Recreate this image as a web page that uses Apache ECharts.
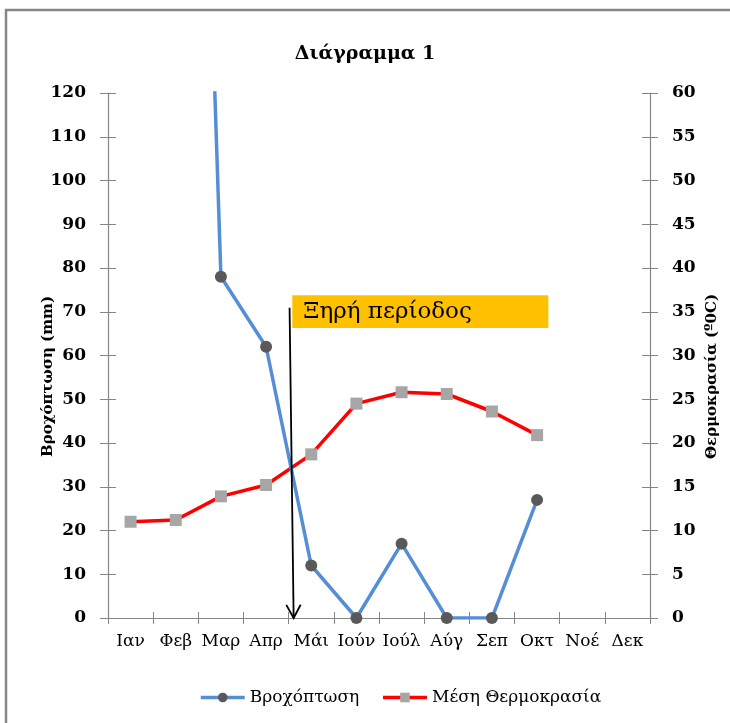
<!DOCTYPE html>
<html>
<head>
<meta charset="utf-8">
<script src="https://cdn.jsdelivr.net/npm/echarts@6/dist/echarts.min.js"></script>
<style>html,body{margin:0;padding:0;background:#fff}#c{width:730px;height:723px}</style>
</head>
<body>
<div id="c"></div>
<script>
const months = ['Ιαν','Φεβ','Μαρ','Απρ','Μάι','Ιούν','Ιούλ','Αύγ','Σεπ','Οκτ','Νοέ','Δεκ'];
const rainfall = [380, 390, 78, 62, 12, 0, 17, 0, 0, 27, null, null];
const temperature = [11.0, 11.2, 13.9, 15.2, 18.7, 24.5, 25.8, 25.6, 23.6, 20.9, null, null];
const rainTicks = {min: 0, max: 120, interval: 10};
const tempTicks = {min: 0, max: 60, interval: 5};
// annotation anchors in data space: [category position, rainfall value]
const dryBox = {from: [3.58, 73.8], to: [9.25, 66.3], text: 'Ξηρή περίοδος'};
const dryArrow = {from: [3.52, 70.9], to: [3.61, 0]};

const FONT = '"DejaVu Serif", "Liberation Serif", serif';
const AX = '#868686';
const chart = echarts.init(document.getElementById('c'), null, {renderer: 'canvas'});

const yLabel = {fontFamily: FONT, fontSize: 17, fontWeight: 'bold', color: '#000'};
const nameStyle = {fontFamily: FONT, fontSize: 15, fontWeight: 'bold', color: '#000', padding: [0, 42, 0, 0]};
const option = {
  animation: false,
  backgroundColor: '#fff',
  title: {
    text: 'Διάγραμμα 1', left: 'center', top: 40,
    textStyle: {fontFamily: FONT, fontSize: 19, fontWeight: 'bold', color: '#000'}
  },
  grid: {left: 108, right: 80, top: 93, bottom: 105, containLabel: false},
  legend: {
    left: 194, top: 684, itemWidth: 44, itemHeight: 12, itemGap: 22,
    lineStyle: {width: 3.5},
    textStyle: {fontFamily: FONT, fontSize: 17, color: '#000'},
    data: ['Βροχόπτωση', 'Μέση Θερμοκρασία']
  },
  xAxis: [
    {type: 'category', data: months, boundaryGap: true,
     axisLine: {lineStyle: {color: AX, width: 1.2}},
     axisTick: {show: true, inside: false, length: 6, interval: 0, lineStyle: {color: AX}},
     axisLabel: {interval: 0, fontFamily: FONT, fontSize: 17, color: '#000', margin: 15}},
    {type: 'category', data: months, boundaryGap: true, position: 'bottom',
     axisLine: {show: false}, axisLabel: {show: false},
     axisTick: {show: true, inside: true, length: 6, interval: 0, lineStyle: {color: AX}}}
  ],
  yAxis: [
    {type: 'value', position: 'left', min: rainTicks.min, max: rainTicks.max, interval: rainTicks.interval,
     name: 'Βροχόπτωση (mm)', nameLocation: 'middle', nameGap: 52, nameRotate: 90, nameMoveOverlap: false,
     nameTextStyle: nameStyle,
     splitLine: {show: false},
     axisLine: {show: true, lineStyle: {color: AX, width: 1.2}},
     axisTick: {show: true, inside: false, length: 8, lineStyle: {color: AX}},
     axisLabel: Object.assign({margin: 22}, yLabel)},
    {type: 'value', position: 'right', min: tempTicks.min, max: tempTicks.max, interval: tempTicks.interval,
     name: 'Θερμοκρασία (º0C)', nameLocation: 'middle', nameGap: 55, nameRotate: 90, nameMoveOverlap: false,
     nameTextStyle: nameStyle,
     splitLine: {show: false},
     axisLine: {show: true, lineStyle: {color: AX, width: 1.2}},
     axisTick: {show: true, inside: false, length: 8, lineStyle: {color: AX}},
     axisLabel: Object.assign({margin: 22}, yLabel)},
    {type: 'value', position: 'left', min: rainTicks.min, max: rainTicks.max, interval: rainTicks.interval,
     splitLine: {show: false}, axisLine: {show: false}, axisLabel: {show: false},
     axisTick: {show: true, inside: true, length: 8, lineStyle: {color: AX}}},
    {type: 'value', position: 'right', min: tempTicks.min, max: tempTicks.max, interval: tempTicks.interval,
     splitLine: {show: false}, axisLine: {show: false}, axisLabel: {show: false},
     axisTick: {show: true, inside: true, length: 8, lineStyle: {color: AX}}}
  ],
  series: [
    {name: 'Βροχόπτωση', type: 'line', xAxisIndex: 0, yAxisIndex: 0, data: rainfall,
     clip: true, symbol: 'circle', symbolSize: 12, z: 3,
     lineStyle: {color: '#558ED5', width: 3.5},
     itemStyle: {color: '#595959', borderWidth: 0}},
    {name: 'Μέση Θερμοκρασία', type: 'line', xAxisIndex: 0, yAxisIndex: 1, data: temperature,
     clip: true, symbol: 'rect', symbolSize: 12, z: 2,
     lineStyle: {color: '#FF0000', width: 3.5},
     itemStyle: {color: '#A6A6A6', borderWidth: 0}}
  ]
};
chart.setOption(option);

function px(p) {
  const a = chart.convertToPixel({xAxisIndex: 0}, 0);
  const b = chart.convertToPixel({xAxisIndex: 0}, 1);
  return [a + (b - a) * p[0], chart.convertToPixel({yAxisIndex: 0}, p[1])];
}
const b0 = px(dryBox.from), b1 = px(dryBox.to);
const a0 = px(dryArrow.from), a1 = px(dryArrow.to);
const ang = Math.atan2(a1[1] - a0[1], a1[0] - a0[0]);
const hl = 15, ha = 0.5;
const h1 = [a1[0] - hl * Math.cos(ang - ha), a1[1] - hl * Math.sin(ang - ha)];
const h2 = [a1[0] - hl * Math.cos(ang + ha), a1[1] - hl * Math.sin(ang + ha)];

chart.setOption({
  graphic: [
    {type: 'rect', shape: {x: 6, y: 10, width: 900, height: 900}, silent: true,
     style: {fill: 'none', stroke: '#868686', lineWidth: 2.5}, z: 0},
    {type: 'rect', shape: {x: b0[0], y: b0[1], width: b1[0] - b0[0], height: b1[1] - b0[1]},
     style: {fill: '#FFC000'}, z: 10},
    {type: 'text', x: b0[0] + 11, y: (b0[1] + b1[1]) / 2,
     style: {text: dryBox.text, fontFamily: FONT, fontSize: 23, fill: '#000', verticalAlign: 'middle'}, z: 11},
    {type: 'polyline', shape: {points: [a0, a1]}, style: {stroke: '#000', lineWidth: 1.8}, z: 12},
    {type: 'polyline', shape: {points: [h1, a1, h2]}, style: {stroke: '#000', lineWidth: 1.8, fill: 'none'}, z: 12}
  ]
});
</script>
</body>
</html>
